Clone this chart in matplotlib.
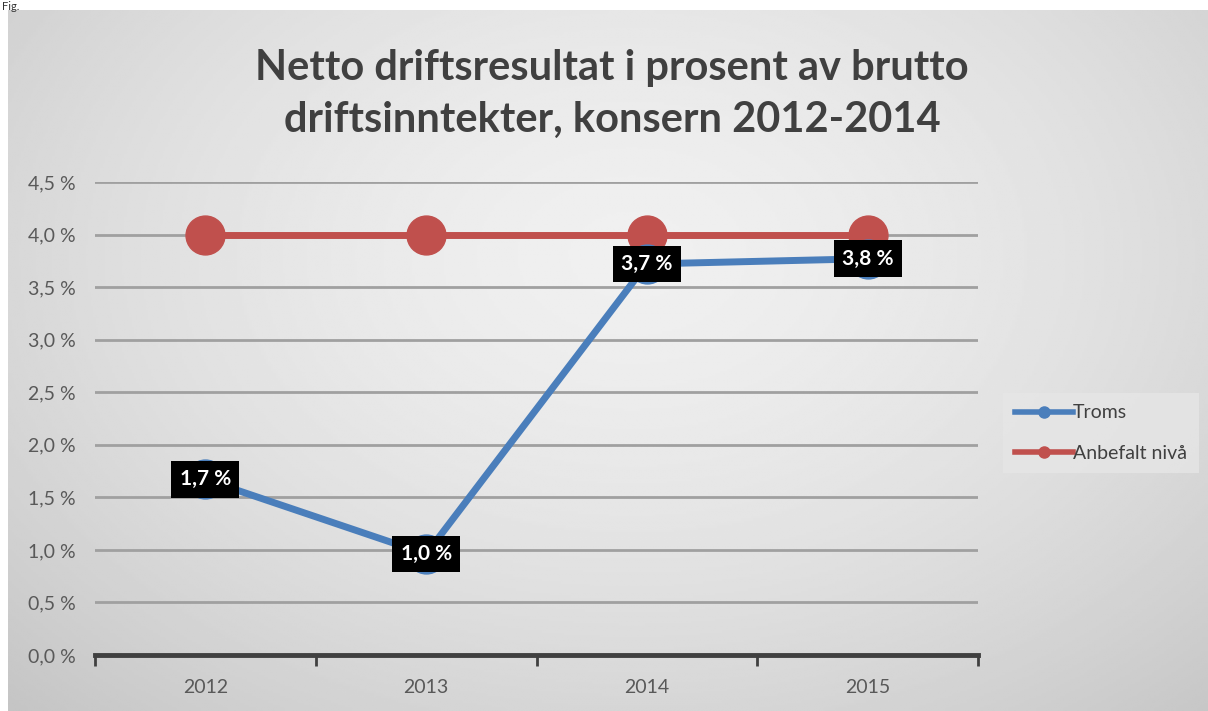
import numpy as np
import matplotlib.pyplot as plt
from matplotlib.lines import Line2D

plt.rcParams['font.family'] = ['Lato', 'DejaVu Sans']

years = ['2012', '2013', '2014', '2015']
troms = [1.67, 0.96, 3.72, 3.77]
anbefalt = [4.0, 4.0, 4.0, 4.0]
yticks = [0.0, 0.5, 1.0, 1.5, 2.0, 2.5, 3.0, 3.5, 4.0, 4.5]
title = 'Netto driftsresultat i prosent av brutto\ndriftsinntekter, konsern 2012-2014'

W, H = 1208, 711
fig = plt.figure(figsize=(W / 100, H / 100), dpi=100)
fig.patch.set_facecolor('white')

# grey radial-ish background of the chart area
bg = fig.add_axes([8 / W, 0, 1200 / W, 701 / H])
yy, xx = np.mgrid[0:1:300j, 0:1:500j]
d = np.sqrt(((xx - 0.52) / 0.75) ** 2 + ((yy - 0.35) / 0.9) ** 2)
shade = 0.94 - 0.17 * np.clip(d, 0, 1.2) ** 1.6
bg.imshow(shade, cmap='gray', vmin=0, vmax=1, aspect='auto', extent=[0, 1, 0, 1])
bg.axis('off')

fig.text(2 / W, 1 - 1 / H, 'Fig.', fontsize=8, color='#333333', va='top')

ax = fig.add_axes([95 / W, 56 / H, (978 - 95) / W, (655 - 182) / H])
ax.patch.set_alpha(0)
x = np.arange(len(years))

ax.set_ylim(0, 4.5)
ax.set_xlim(-0.5, len(years) - 0.5)
ax.set_yticks(yticks)
ax.set_yticklabels([f'{v:.1f} %'.replace('.', ',') for v in yticks], fontsize=14, color='#595959')
for v in yticks[1:]:
    ax.axhline(v, color='#a0a0a0', lw=2, zorder=1)

ax.set_xticks(x)
ax.set_xticklabels(years, fontsize=14, color='#595959')
ax.set_xticks(np.arange(-0.5, len(years)), minor=True)
ax.tick_params(axis='x', which='major', length=0, pad=17)
ax.tick_params(axis='x', which='minor', length=8, width=2, color='#404040', direction='out')
ax.tick_params(axis='y', length=0, pad=14)
for s in ['top', 'right', 'left']:
    ax.spines[s].set_visible(False)
ax.spines['bottom'].set_color('#404040')
ax.spines['bottom'].set_linewidth(3.5)

blue = '#4a7ebb'
red = '#c0504d'
ax.plot(x, anbefalt, color=red, lw=5, marker='o', ms=28, zorder=3, clip_on=False)
ax.plot(x, troms, color=blue, lw=5, marker='o', ms=28, zorder=4, clip_on=False)

for xi, v in zip(x, troms):
    ax.text(xi, v, f'{v:.1f} %'.replace('.', ','), ha='center', va='center',
            fontsize=15, fontweight='bold', color='white', zorder=5,
            bbox=dict(boxstyle='square,pad=0.4', fc='black', ec='none'))

fig.text(612 / W, 1 - 94 / H, title, ha='center', va='center', fontsize=30,
         fontweight='bold', color='#404040', linespacing=1.45)

handles = [Line2D([], [], color=blue, lw=4, marker='o', ms=8),
           Line2D([], [], color=red, lw=4, marker='o', ms=8)]
leg = fig.legend(handles, ['Troms', 'Anbefalt nivå'], loc='center left',
                 bbox_to_anchor=(1003 / W, 1 - 433 / H), fontsize=14,
                 frameon=True, handlelength=3.0, handletextpad=0.0,
                 labelspacing=1.2, borderpad=0.6, borderaxespad=0,
                 fancybox=False)
leg.get_frame().set_facecolor('#e6e6e6')
leg.get_frame().set_edgecolor('none')
for t in leg.get_texts():
    t.set_color('#404040')

fig.savefig('out.png', dpi=100)
